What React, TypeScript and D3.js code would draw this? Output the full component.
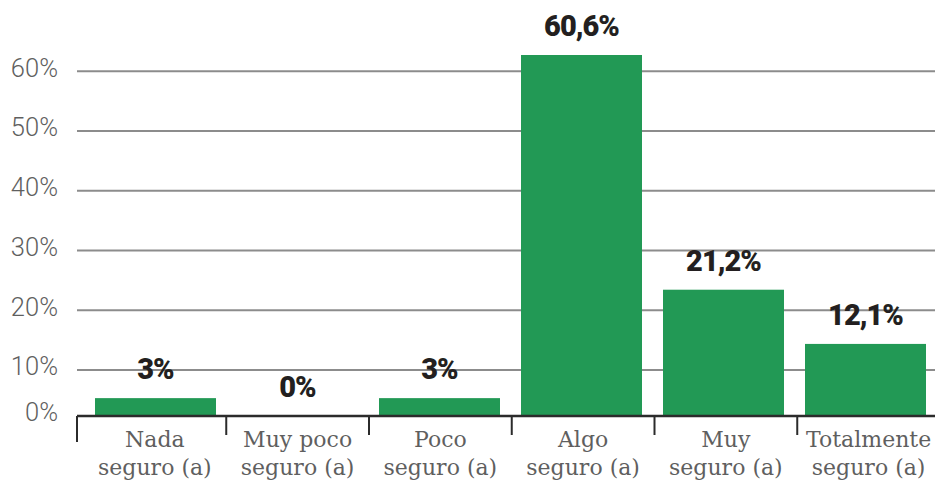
import * as d3 from "d3";

const categories = [
  ["Nada", "seguro (a)"],
  ["Muy poco", "seguro (a)"],
  ["Poco", "seguro (a)"],
  ["Algo", "seguro (a)"],
  ["Muy", "seguro (a)"],
  ["Totalmente", "seguro (a)"],
];
const values = [3, 0, 3, 60.6, 21.2, 12.1];
const valueLabels = ["3%", "0%", "3%", "60,6%", "21,2%", "12,1%"];
const gridTicks = [10, 20, 30, 40, 50, 60];

const width = 935;
const height = 483;
const baseY = 416;

export default function App() {
  const keys = categories.map((c) => c.join(" "));

  // bars
  const x = d3
    .scaleBand()
    .domain(keys)
    .range([84.5, 936.5])
    .paddingInner(0.148)
    .paddingOuter(0.074);

  // category axis is laid out a little wider than the bars
  const xAxis = d3.scaleBand().domain(keys).range([83.5, 940]);

  const y = d3.scaleLinear().domain([0, 60.6]).range([baseY, 55]);
  const yGrid = d3.scaleLinear().domain([10, 60]).range([370, 71.3]);

  return (
    <svg
      width={width}
      height={height}
      style={{ position: "absolute", left: 0, top: 0, background: "#fff" }}
    >
      {/* gridlines + y labels */}
      {gridTicks.map((t) => (
        <g key={t}>
          <line
            x1={77}
            x2={width}
            y1={yGrid(t)}
            y2={yGrid(t)}
            stroke="#8c8c8c"
            strokeWidth={2}
          />
          <text
            x={58}
            y={yGrid(t) + 5.4}
            textAnchor="end"
            fontFamily="Roboto"
            fontWeight={300}
            fontSize={25.5}
            fill="#5f5f5f"
          >
            {t}%
          </text>
        </g>
      ))}
      <text
        x={58}
        y={baseY + 4.7}
        textAnchor="end"
        fontFamily="Roboto"
        fontWeight={300}
        fontSize={25.5}
        fill="#5f5f5f"
      >
        0%
      </text>

      {/* bars */}
      {keys.map((k, i) => (
        <rect
          key={k}
          x={x(k)}
          y={y(values[i])}
          width={x.bandwidth()}
          height={baseY - y(values[i])}
          fill="#229955"
        />
      ))}

      {/* value labels */}
      {keys.map((k, i) => (
        <text
          key={k}
          x={(x(k) as number) + x.bandwidth() / 2}
          y={y(values[i]) - 19}
          textAnchor="middle"
          fontFamily="Roboto"
          fontWeight={900}
          fontSize={29}
          letterSpacing={-1}
          fill="#231f20"
        >
          {valueLabels[i]}
        </text>
      ))}

      {/* axis */}
      <line x1={77} x2={width} y1={baseY} y2={baseY} stroke="#2b2b2b" strokeWidth={2.5} />
      <line x1={77} x2={77} y1={baseY} y2={442} stroke="#2b2b2b" strokeWidth={2} />
      {keys.slice(1).map((k) => (
        <line
          key={k}
          x1={xAxis(k)}
          x2={xAxis(k)}
          y1={baseY}
          y2={435}
          stroke="#2b2b2b"
          strokeWidth={2}
        />
      ))}
      {categories.map((c, i) => {
        const cx = (xAxis(keys[i]) as number) + xAxis.bandwidth() / 2;
        return (
          <text
            key={keys[i]}
            x={cx}
            textAnchor="middle"
            fontFamily="DejaVu Serif"
            fontSize={22}
            fill="#5f5f5f"
          >
            <tspan x={cx} y={447.3}>
              {c[0]}
            </tspan>
            <tspan x={cx} y={475}>
              {c[1]}
            </tspan>
          </text>
        );
      })}
    </svg>
  );
}
